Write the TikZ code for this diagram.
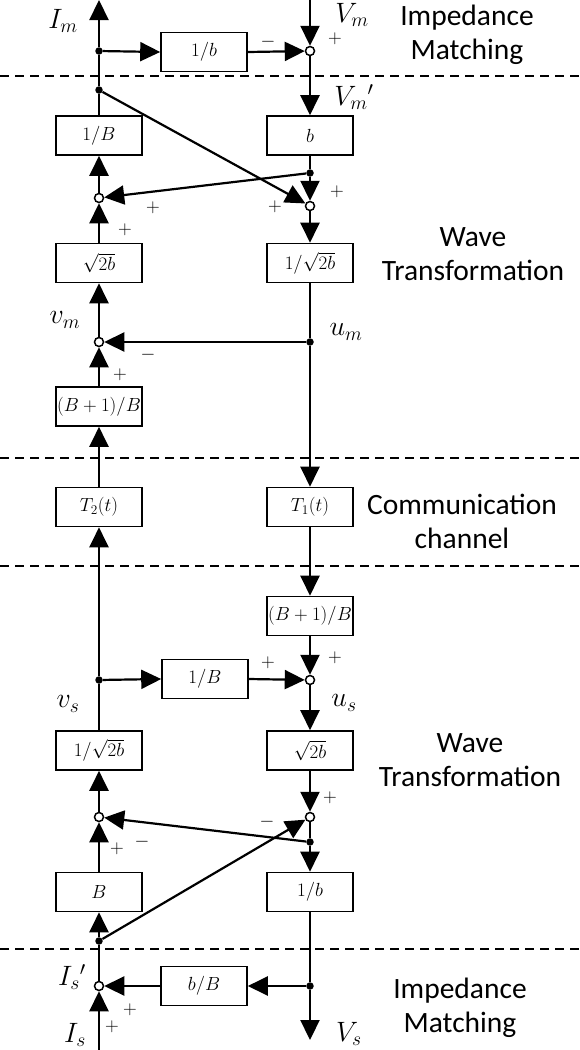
\RequirePackage{fix-cm}
\documentclass[tikz,border=0pt]{standalone}
\usepackage[no-math]{fontspec}
\setmainfont{Carlito}
\usetikzlibrary{arrows.meta}
\begin{document}
\begin{tikzpicture}[x=1pt,y=-1pt,
  blk/.style={draw,line width=1.6pt,minimum width=86pt,minimum height=39pt,inner sep=0pt,font=\fontsize{19}{22}\selectfont},
  sumc/.style={circle,draw,fill=white,line width=1.5pt,minimum size=9pt,inner sep=0pt},
  dotn/.style={circle,fill,minimum size=7.5pt,inner sep=0pt},
  sig/.style={line width=2.2pt},
  arr/.style={sig,-{Triangle[length=20pt,width=19pt]}},
  lbl/.style={font=\fontsize{28}{34}\selectfont,inner sep=0pt},
  sgn/.style={font=\fontsize{19}{22}\selectfont,inner sep=0pt},
  sect/.style={font=\fontsize{29.5}{34}\selectfont,align=center,inner sep=0pt},
  divider/.style={line width=1.8pt,dash pattern=on 9pt off 6pt}]
\useasboundingbox (0,0) rectangle (579,1050);
% dividers
\coordinate (l1a) at (0,76); \coordinate (l1b) at (579,76);
\coordinate (l2a) at (0,458); \coordinate (l2b) at (579,458);
\coordinate (l3a) at (0,566); \coordinate (l3b) at (579,566);
\coordinate (l4a) at (0,949); \coordinate (l4b) at (579,949);
\draw[divider] (l1a) -- (l1b);
\draw[divider] (l2a) -- (l2b);
\draw[divider] (l3a) -- (l3b);
\draw[divider] (l4a) -- (l4b);
% nodes
\coordinate (Imtop) at (99,0);
\coordinate (Vmtop) at (310,0);
\node[dotn] (d1) at (99,51) {};
\node[blk] (bb1) at (204,52) {$1/b$};
\node[sumc] (s1) at (310,51) {};
\node[dotn] (d2) at (99,90) {};
\node[blk] (bB1) at (99,135.5) {$1/B$};
\node[blk] (bb2) at (310,135.5) {$b$};
\node[dotn] (d3) at (310,173) {};
\node[sumc] (s2) at (310,206) {};
\node[sumc] (sL1) at (99,198) {};
\node[blk] (bsq1) at (99,263) {$\sqrt{2b}$};
\node[blk] (bisq1) at (310,263) {$1/\sqrt{2b}$};
\node[sumc] (sL2) at (99,342) {};
\node[dotn] (d4) at (310,342) {};
\node[blk] (bBB1) at (99,406.5) {$(B+1)/B$};
\node[blk] (T2) at (99,507) {$T_2(t)$};
\node[blk] (T1) at (310,507) {$T_1(t)$};
\node[blk] (bBB2) at (310,616) {$(B+1)/B$};
\node[dotn] (d5) at (99,680) {};
\node[blk] (bB2) at (205,679) {$1/B$};
\node[sumc] (s3) at (310,680) {};
\node[blk] (bisq2) at (99,750.5) {$1/\sqrt{2b}$};
\node[blk] (bsq2) at (310,750.5) {$\sqrt{2b}$};
\node[sumc] (sL3) at (99,817) {};
\node[sumc] (s4) at (310,817) {};
\node[dotn] (d6) at (310,842) {};
\node[blk] (bB3) at (99,892) {$B$};
\node[blk] (bb3) at (310,892) {$1/b$};
\node[dotn] (d7) at (99,941) {};
\node[sumc] (sL4) at (99,986) {};
\node[dotn] (d8) at (310,986) {};
\node[blk] (bbB) at (204,986) {$b/B$};
\coordinate (Vsbot) at (310,1040);
\coordinate (Isbot) at (99,1050);
% connectors top
\draw[arr] (d1) -- (Imtop);
\draw[arr] (d1) -- (bb1.west);
\draw[arr] (bb1.east) -- (s1);
\draw[arr] (Vmtop) -- (s1);
\draw[sig] (d2) -- (d1);
\draw[sig] (bB1.north) -- (d2);
\draw[arr] (s1) -- (bb2.north);
\draw[sig] (bb2.south) -- (d3);
\draw[arr] (d3) -- (s2);
\draw[arr] (d3) -- (sL1);
\draw[arr] (d2) -- (s2);
\draw[arr] (sL1) -- (bB1.south);
\draw[arr] (bsq1.north) -- (sL1);
\draw[arr] (s2) -- (bisq1.north);
\draw[sig] (bisq1.south) -- (d4);
\draw[arr] (d4) -- (T1.north);
\draw[arr] (d4) -- (sL2);
\draw[arr] (sL2) -- (bsq1.south);
\draw[arr] (bBB1.north) -- (sL2);
\draw[arr] (T2.north) -- (bBB1.south);
% connectors bottom
\draw[arr] (T1.south) -- (bBB2.north);
\draw[arr] (bBB2.south) -- (s3);
\draw[arr] (d5) -- (T2.south);
\draw[arr] (d5) -- (bB2.west);
\draw[arr] (bB2.east) -- (s3);
\draw[sig] (bisq2.north) -- (d5);
\draw[arr] (s3) -- (bsq2.north);
\draw[arr] (sL3) -- (bisq2.south);
\draw[arr] (bsq2.south) -- (s4);
\draw[sig] (s4) -- (d6);
\draw[arr] (d6) -- (bb3.north);
\draw[arr] (d6) -- (sL3);
\draw[arr] (d7) -- (s4);
\draw[arr] (bB3.north) -- (sL3);
\draw[arr] (d7) -- (bB3.south);
\draw[sig] (sL4) -- (d7);
\draw[sig] (bb3.south) -- (d8);
\draw[arr] (d8) -- (Vsbot);
\draw[arr] (d8) -- (bbB.east);
\draw[arr] (bbB.west) -- (sL4);
\draw[arr] (Isbot) -- (sL4);
% signal labels
\node[lbl] (tIm) at (63,21) {$I_m$};
\node[lbl] (tVm) at (352,15) {$V_m$};
\node[lbl] (tVmp) at (354,97) {$V_m{}'$};
\node[lbl] (tvm) at (65,320) {$v_m$};
\node[lbl] (tum) at (346,332) {$u_m$};
\node[lbl] (tvs) at (68,704) {$v_s$};
\node[lbl] (tus) at (344,703) {$u_s$};
\node[lbl] (tIsp) at (72,977) {$I_s{}'$};
\node[lbl] (tIs) at (75,1035) {$I_s$};
\node[lbl] (tVs) at (349,1034) {$V_s$};
% signs
\node[sgn] (p1) at (335,39) {$+$};
\node[sgn] (m1) at (268,42) {$-$};
\node[sgn] (p2) at (337,192) {$+$};
\node[sgn] (p3) at (153,208) {$+$};
\node[sgn] (p4) at (275,207) {$+$};
\node[sgn] (p5) at (125,230) {$+$};
\node[sgn] (m2) at (148,355) {$-$};
\node[sgn] (p6) at (120,375) {$+$};
\node[sgn] (p7) at (335,658) {$+$};
\node[sgn] (p8) at (268,663) {$+$};
\node[sgn] (p9) at (330,798) {$+$};
\node[sgn] (m3) at (267,822) {$-$};
\node[sgn] (m4) at (142,842) {$-$};
\node[sgn] (p10) at (117,849) {$+$};
\node[sgn] (p11) at (130,1010) {$+$};
\node[sgn] (p12) at (112,1027) {$+$};
% section labels
\node[sect] (sec1) at (467,35) {Impedance\\Matching};
\node[sect] (sec2) at (473,254) {Wave\\Transformation};
\node[sect] (sec3) at (462,521) {Communication\\channel};
\node[sect] (sec4) at (470,760) {Wave\\Transformation};
\node[sect] (sec5) at (460,1008) {Impedance\\Matching};
\end{tikzpicture}
\end{document}
